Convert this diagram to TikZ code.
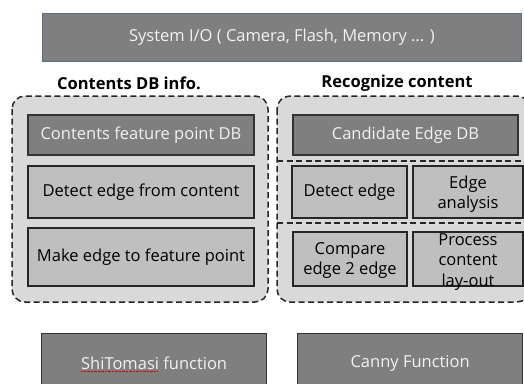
\documentclass[tikz,border=0pt]{standalone}
\usepackage{fontspec}
\setmainfont{Open Sans}
\definecolor{darkfill}{HTML}{7F7F7F}
\definecolor{lightfill}{HTML}{BFBFBF}
\definecolor{groupfill}{HTML}{D9D9D9}
\definecolor{iotext}{HTML}{F2F2F2}
\definecolor{ioborder}{HTML}{5B6F84}

\begin{document}
\begin{tikzpicture}%
		[x=1pt, y=-1pt,
		font=\fontsize{16.5}{20}\selectfont,
		every node/.style={inner sep=2pt, align=center}
		]
		\tikzstyle{darkbox}=[rectangle, draw=black!80, fill=darkfill, text=iotext, line width=1.3pt]
		\tikzstyle{lightbox}=[rectangle, draw=black!85, fill=lightfill, text=black, line width=1.3pt]
		\tikzstyle{dashline}=[draw=black!85, line width=1.5pt, dash pattern=on 6pt off 3.5pt]
		\tikzstyle{group}=[dashline, fill=groupfill, rounded corners=13pt]
		\tikzstyle{heading}=[font=\fontsize{16.5}{20}\selectfont\bfseries]
		\useasboundingbox (0,0) rectangle (524,383);
		
		% top bar
		\node[darkbox, draw=ioborder, line width=1pt, minimum width=479pt, minimum height=48pt, anchor=north west] (SysIO) at (42,13) {System I/O ( Camera, Flash, Memory ... )};
		
		% headings
		\node[heading] (DBInfo)    at (129,83) {Contents DB info.};
		\node[heading] (Recognize) at (397,83) {Recognize content};
		
		% dashed groups
		\draw[group] (12,96) rectangle (268,302);
		\draw[group] (277,96) rectangle (530,302);
		\coordinate (SepA) at (277,161);
		\coordinate (SepB) at (277,223);
		\draw[dashline] (SepA) -- ++(247,0);
		\draw[dashline] (SepB) -- ++(247,0);
		
		% left column
		\node[darkbox, minimum width=226pt, minimum height=40pt]  (FeatDB)   at (141,135) {Contents feature point DB};
		\node[lightbox, minimum width=226pt, minimum height=52pt] (DetectC)  at (141,192) {Detect edge from content};
		\node[lightbox, minimum width=226pt, minimum height=58pt] (MakeEdge) at (141,257) {Make edge to feature point};
		
		% right column
		\node[darkbox, minimum width=225pt, minimum height=40pt]  (CandDB)   at (405.5,135) {Candidate Edge DB};
		\node[lightbox, minimum width=115pt, minimum height=52pt] (DetectE)  at (349.5,192) {Detect edge};
		\node[lightbox, minimum width=110pt, minimum height=52pt] (Analysis) at (468,192) {};
		\node[inner sep=0pt] (AnaText) at ([yshift=-2pt]Analysis.center) {Edge\\analysis};
		\node[lightbox, minimum width=114pt, minimum height=54pt] (Compare)  at (350,259) {};
		\node[inner sep=0pt] (CmpText) at ([yshift=-2pt]Compare.center) {Compare\\edge 2 edge};
		\node[lightbox, minimum width=110pt, minimum height=54pt] (Process)  at (468,259) {};
		\node[inner sep=0pt, font=\fontsize{16.5}{20.5}\selectfont] (ProcText) at ([yshift=-3pt]Process.center) {Process\\content\\lay-out};
		
		% bottom functions
		\node[darkbox, minimum width=225pt, minimum height=60pt, anchor=north west] (ShiTomasi) at (41,333) {ShiTomasi function};
		\node[darkbox, minimum width=225pt, minimum height=60pt, anchor=north west] (Canny)     at (297,333) {Canny Function};
		\draw[red!80!black, densely dotted, thin] (81,371) -- (158,371);
	\end{tikzpicture}
\end{document}
